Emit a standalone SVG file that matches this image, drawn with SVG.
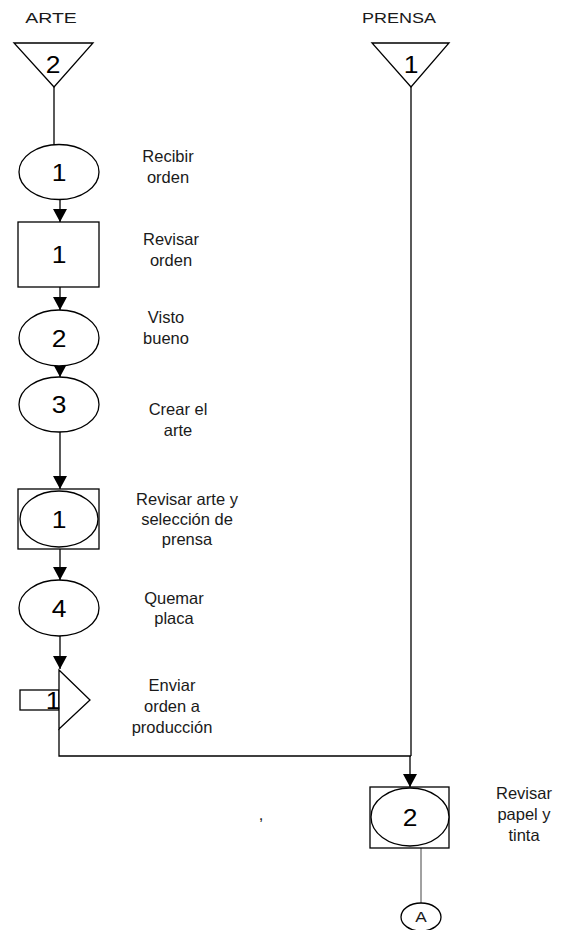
<svg xmlns="http://www.w3.org/2000/svg" width="581" height="930" viewBox="0 0 581 930">
  <style>
    .shape { fill: #fff; stroke: #000; stroke-width: 1.3; }
    .line { fill: none; stroke: #000; stroke-width: 1.3; }
    .thin { fill: none; stroke: #444; stroke-width: 1; }
    .lbl { font-family: "Liberation Sans", Arial, sans-serif; font-size: 16.5px; fill: #1a1a1a; text-anchor: middle; }
    .hdr { font-family: "Liberation Sans", Arial, sans-serif; font-size: 15px; fill: #1a1a1a; text-anchor: middle; }
    .num { font-family: "Liberation Sans", Arial, sans-serif; font-size: 24px; fill: #000; text-anchor: middle; }
  </style>
  <defs>
    <marker id="arrow" markerUnits="userSpaceOnUse" markerWidth="14" markerHeight="14" refX="13" refY="7" orient="auto">
      <path d="M0,0 L13,7 L0,14 Z" fill="#000"/>
    </marker>
  </defs>

  <!-- connectors -->
  <g id="connectors">
    <line class="line" x1="54" y1="87" x2="54" y2="145"/>
    <line class="line" x1="60" y1="200" x2="60" y2="222" marker-end="url(#arrow)"/>
    <line class="line" x1="60" y1="287" x2="60" y2="310" marker-end="url(#arrow)"/>
    <line class="line" x1="60" y1="366" x2="60" y2="377" marker-end="url(#arrow)"/>
    <line class="line" x1="60" y1="432" x2="60" y2="489" marker-end="url(#arrow)"/>
    <line class="line" x1="60" y1="549" x2="60" y2="580" marker-end="url(#arrow)"/>
    <line class="line" x1="60" y1="636" x2="60" y2="669" marker-end="url(#arrow)"/>
    <polyline class="line" points="59,729 59,756 411,756"/>
    <line class="line" x1="411" y1="87" x2="411" y2="756"/>
    <line class="line" x1="410" y1="756" x2="410" y2="787" marker-end="url(#arrow)"/>
    <line class="thin" x1="421" y1="846" x2="421" y2="903"/>
  </g>

  <!-- headers -->
  <g id="hdr-arte">
    <text class="hdr" transform="matrix(1.3 0 0 1 51 23)" x="0" y="0">ARTE</text>
  </g>
  <g id="hdr-prensa">
    <text class="hdr" transform="matrix(1.2 0 0 1 399 23)" x="0" y="0">PRENSA</text>
  </g>

  <!-- storage ARTE -->
  <g id="store-arte">
    <polygon class="shape" points="14,43 93,43 54,87"/>
    <text class="num" transform="matrix(1.1 0 0 1 53 73)" x="0" y="0">2</text>
  </g>

  <!-- storage PRENSA -->
  <g id="store-prensa">
    <polygon class="shape" points="372,43 449,43 411,87"/>
    <text class="num" transform="matrix(1.1 0 0 1 411 73)" x="0" y="0">1</text>
  </g>

  <g id="op1">
    <ellipse class="shape" cx="59" cy="172" rx="40" ry="27.5"/>
    <text class="num" transform="matrix(1.1 0 0 1 59 181)" x="0" y="0">1</text>
    <text class="lbl" x="168" y="162">Recibir</text>
    <text class="lbl" x="168" y="183">orden</text>
  </g>

  <g id="insp1">
    <rect class="shape" x="18" y="222" width="81" height="65"/>
    <text class="num" transform="matrix(1.1 0 0 1 59 263)" x="0" y="0">1</text>
    <text class="lbl" x="171" y="245">Revisar</text>
    <text class="lbl" x="171" y="266">orden</text>
  </g>

  <g id="op2">
    <ellipse class="shape" cx="59" cy="338" rx="40" ry="28"/>
    <text class="num" transform="matrix(1.1 0 0 1 59 347)" x="0" y="0">2</text>
    <text class="lbl" x="166" y="323">Visto</text>
    <text class="lbl" x="166" y="344">bueno</text>
  </g>

  <g id="op3">
    <ellipse class="shape" cx="59" cy="404.5" rx="40" ry="27.5"/>
    <text class="num" transform="matrix(1.1 0 0 1 59 413)" x="0" y="0">3</text>
    <text class="lbl" x="178" y="415">Crear el</text>
    <text class="lbl" x="178" y="436">arte</text>
  </g>

  <g id="comb1">
    <rect class="shape" x="18" y="489" width="81" height="60"/>
    <ellipse class="shape" cx="59" cy="519" rx="39" ry="28"/>
    <text class="num" transform="matrix(1.1 0 0 1 59 528)" x="0" y="0">1</text>
    <text class="lbl" x="187" y="505">Revisar arte y</text>
    <text class="lbl" x="187" y="525">selección de</text>
    <text class="lbl" x="187" y="545">prensa</text>
  </g>

  <g id="op4">
    <ellipse class="shape" cx="59" cy="608" rx="40" ry="28"/>
    <text class="num" transform="matrix(1.1 0 0 1 59 617)" x="0" y="0">4</text>
    <text class="lbl" x="174" y="604">Quemar</text>
    <text class="lbl" x="174" y="624">placa</text>
  </g>

  <g id="trans1">
    <rect class="shape" x="20" y="690" width="39" height="20"/>
    <polygon class="shape" points="59,670 90,700 59,729"/>
    <text class="num" transform="matrix(1.1 0 0 1 53 709)" x="0" y="0">1</text>
    <text class="lbl" x="172" y="691">Enviar</text>
    <text class="lbl" x="172" y="712">orden a</text>
    <text class="lbl" x="172" y="733">producción</text>
  </g>

  <g id="comb2">
    <rect class="shape" x="370" y="787" width="79" height="61"/>
    <ellipse class="shape" cx="410" cy="817" rx="39" ry="29"/>
    <text class="num" transform="matrix(1.1 0 0 1 410 826)" x="0" y="0">2</text>
    <text class="lbl" x="524" y="799">Revisar</text>
    <text class="lbl" x="524" y="820">papel y</text>
    <text class="lbl" x="524" y="841">tinta</text>
  </g>

  <g id="conn-a">
    <ellipse class="shape" cx="421" cy="917" rx="20" ry="14"/>
    <text class="hdr" transform="matrix(1.15 0 0 1 421 922)" x="0" y="0">A</text>
  </g>

  <g id="stray-comma">
    <text class="lbl" x="261" y="820">,</text>
  </g>
</svg>
